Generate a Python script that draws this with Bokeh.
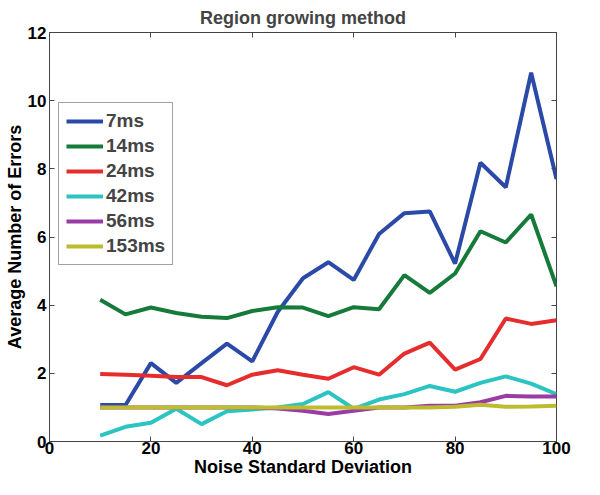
from bokeh.plotting import figure
from bokeh.models import LinearAxis, Legend, LegendItem, Range1d, FixedTicker
from bokeh.embed import file_html
from bokeh.resources import INLINE

noise = [10, 15, 20, 25, 30, 35, 40, 45, 50, 55, 60, 65, 70, 75, 80, 85, 90, 95, 100]
s7 = [1.07, 1.07, 2.30, 1.72, 2.30, 2.87, 2.35, 3.80, 4.79, 5.26, 4.74, 6.09, 6.70, 6.75, 5.22, 8.18, 7.46, 10.82, 7.70]
s14 = [4.16, 3.73, 3.93, 3.77, 3.66, 3.62, 3.83, 3.94, 3.93, 3.68, 3.94, 3.88, 4.88, 4.36, 4.93, 6.17, 5.84, 6.66, 4.55]
s24 = [1.98, 1.96, 1.93, 1.89, 1.89, 1.65, 1.96, 2.09, 1.96, 1.84, 2.18, 1.96, 2.58, 2.90, 2.11, 2.42, 3.61, 3.45, 3.56]
s42 = [0.17, 0.43, 0.55, 0.96, 0.51, 0.89, 0.94, 1.00, 1.10, 1.45, 0.96, 1.23, 1.39, 1.63, 1.46, 1.72, 1.91, 1.70, 1.39]
s56 = [1.00, 1.00, 1.00, 1.00, 1.00, 1.00, 1.00, 0.97, 0.90, 0.81, 0.90, 1.00, 1.00, 1.05, 1.05, 1.15, 1.34, 1.32, 1.32]
s153 = [1.00, 1.00, 1.00, 1.00, 1.00, 1.00, 1.00, 1.00, 1.00, 1.00, 1.00, 1.00, 1.00, 1.00, 1.02, 1.08, 1.02, 1.03, 1.05]
labels = ["7ms", "14ms", "24ms", "42ms", "56ms", "153ms"]
colors = ["#2b4aa8", "#167a3a", "#e52d2d", "#2cc3c3", "#9a3ba6", "#bcbc2e"]
x_ticks = [0, 20, 40, 60, 80, 100]
y_ticks = [0, 2, 4, 6, 8, 10, 12]

FONT = "Liberation Sans"

p = figure(width=584, height=479, output_backend="svg", toolbar_location=None,
           x_range=Range1d(0, 100), y_range=Range1d(0, 12),
           min_border_left=49, min_border_right=28, min_border_top=22, min_border_bottom=0,
           x_axis_label="Noise Standard Deviation", y_axis_label="Average Number of Errors",
           title="Region growing method")
p.title.align = "center"
p.title.text_font = FONT
p.title.text_font_size = "18px"
p.title.text_font_style = "bold"
p.title.offset = 0
p.grid.visible = False
p.outline_line_color = "#444444"
p.outline_line_width = 1

for ax in (p.xaxis[0], p.yaxis[0]):
    ax.major_tick_in = 5
    ax.major_tick_out = 0
    ax.minor_tick_line_color = None
    ax.axis_line_color = "#444444"
    ax.major_tick_line_color = "#444444"
    ax.major_label_text_font = FONT
    ax.major_label_text_font_size = "17px"
    ax.major_label_text_font_style = "bold"
    ax.major_label_text_color = "black"
    ax.axis_label_text_font = FONT
    ax.axis_label_text_font_size = "18px"
    ax.axis_label_text_font_style = "bold"
    ax.axis_label_text_color = "black"
    ax.major_label_standoff = 0
    ax.axis_label_standoff = 0
p.xaxis[0].ticker = FixedTicker(ticks=x_ticks)
p.yaxis[0].ticker = FixedTicker(ticks=y_ticks)
p.yaxis[0].major_label_standoff = 3
p.yaxis[0].axis_label_standoff = 0

top_ax = LinearAxis(ticker=FixedTicker(ticks=x_ticks), major_label_text_font_size="1px",
                    major_label_text_color=None,
                    major_label_standoff=0, major_tick_in=5, major_tick_out=0,
                    minor_tick_line_color=None, axis_line_color=None, major_tick_line_color="#444444")
right_ax = LinearAxis(ticker=FixedTicker(ticks=y_ticks), major_label_text_font_size="1px",
                      major_label_text_color=None,
                      major_label_standoff=0, major_tick_in=5, major_tick_out=0,
                      minor_tick_line_color=None, axis_line_color=None, major_tick_line_color="#444444")
p.add_layout(top_ax, "above")
p.add_layout(right_ax, "right")

series = [s7, s14, s24, s42, s56, s153]
items = []
for ys, lab, col in zip(series, labels, colors):
    r = p.line(noise, ys, line_color=col, line_width=4)
    items.append(LegendItem(label=lab, renderers=[r]))

legend = Legend(items=items, location=(9, 176))
legend.label_text_font = FONT
legend.label_text_font_size = "19px"
legend.label_text_font_style = "bold"
legend.glyph_width = 37
legend.glyph_height = 18
legend.label_height = 18
legend.label_standoff = 3
legend.spacing = 3
legend.padding = 7
legend.margin = 0
legend.border_line_color = "#444444"
legend.border_line_width = 1
p.add_layout(legend, "center")

open("out.html", "w").write(file_html(p, INLINE))
